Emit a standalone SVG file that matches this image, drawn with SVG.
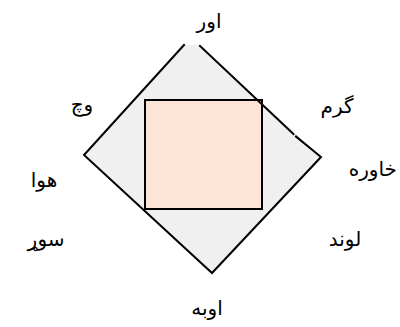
<svg xmlns="http://www.w3.org/2000/svg" width="400" height="327" viewBox="0 0 400 327">
<style>
.lbl{font-family:"DejaVu Sans","Noto Sans",sans-serif;font-size:20px;fill:#000;text-anchor:middle}
.edge{stroke:#000;stroke-width:2;fill:none;stroke-linecap:square}
</style>
<rect width="400" height="327" fill="#fff"/>
<g id="diamond">
<polygon points="84,155 184,45 200,45 321,157 212,273" fill="#f0f0f0"/>
</g>
<g id="square">
<rect x="145" y="100" width="117" height="109" fill="#fce4d6" stroke="#000" stroke-width="2"/>
</g>
<g id="connectors">
<polyline class="edge" points="184,45 84,155 212,273 321,157 296,136.5"/>
<line class="edge" x1="200" y1="46" x2="293.5" y2="134"/>
</g>
<g id="labels">
<text class="lbl" x="209" y="28">اور</text>
<text class="lbl" x="82" y="111">وچ</text>
<text class="lbl" x="337" y="113">گرم</text>
<text class="lbl" x="397" y="176" style="text-anchor:end">خاوره</text>
<text class="lbl" x="44" y="187">هوا</text>
<text class="lbl" x="46" y="246">سوړ</text>
<text class="lbl" x="345" y="246">لوند</text>
<text class="lbl" x="207" y="315">اوبه</text>
</g>
</svg>
